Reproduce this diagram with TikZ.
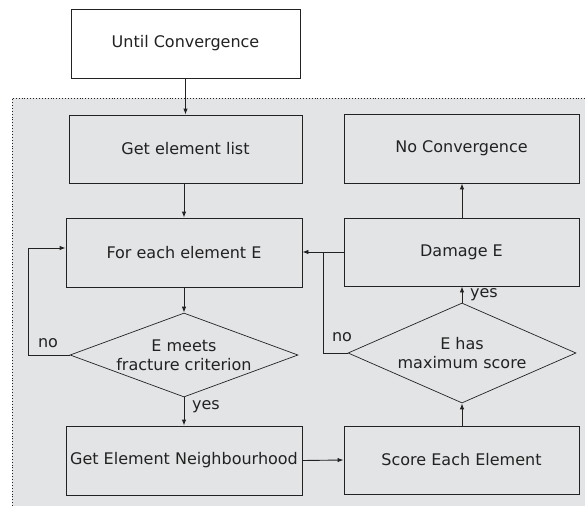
\documentclass[tikz,border=0pt]{standalone}
\usepackage{fontspec}
\setmainfont{DejaVu Sans}
\usetikzlibrary{shapes.geometric,arrows.meta}
\definecolor{bg}{HTML}{E3E4E6}
\definecolor{ink}{HTML}{222222}
\begin{document}
\begin{tikzpicture}[x=1pt,y=-1pt,
  font=\fontsize{16}{19}\selectfont, text=ink,
  box/.style={draw=ink, line width=0.9pt, rectangle, inner sep=0pt, align=center},
  dia/.style={draw=ink, line width=0.7pt, diamond, inner sep=0pt, align=center},
  arr/.style={draw=ink, line width=0.9pt, -{Latex[length=6pt,width=4.5pt]}},
  ln/.style={draw=ink, line width=0.9pt}]
\useasboundingbox (0,0) rectangle (585,506);
\fill[bg] (12,98) rectangle (585,506);
\draw[ink, line width=0.9pt, dotted] (12,506) -- (12,98) -- (585,98);

\node[box, fill=white, minimum width=229pt, minimum height=69pt] (top) at (185.5,43.5) {Until Convergence};
\node[box, fill=bg, minimum width=233pt, minimum height=68pt] (list) at (185.5,149) {Get element list};
\node[box, fill=bg, minimum width=236pt, minimum height=69pt] (each) at (184,252.5) {For each element E};
\node[dia, fill=bg, aspect=2.7, minimum width=228pt, minimum height=84pt] (d1) at (184,355) {E meets\\fracture criterion};
\node[box, fill=bg, minimum width=236pt, minimum height=69pt] (neigh) at (184,460.5) {Get Element Neighbourhood};
\node[box, fill=bg, minimum width=235pt, minimum height=68pt] (score) at (461.5,460) {Score Each Element};
\node[dia, fill=bg, aspect=2.28, minimum width=228pt, minimum height=100pt] (d2) at (462,353) {E has\\maximum score};
\node[box, fill=bg, minimum width=235pt, minimum height=68pt] (dmg) at (461.5,252) {Damage E};
\node[box, fill=bg, minimum width=235pt, minimum height=69pt] (noconv) at (461.5,148.5) {No Convergence};

\draw[arr] (top.south) -- (top.south |- list.north);
\draw[arr] (list.south -| d1.north) -- (each.north -| d1.north) ;
\draw[arr] (each.south -| d1.north) -- (d1.north);
\draw[arr] (d1.south) -- (neigh.north -| d1.south);
\node at (206,407) {yes};
\coordinate (c1) at (28,248);
\draw[ln] (d1.west) -| (c1);
\draw[arr] (c1) -- (c1 -| each.west);
\node at (48,343) {no};
\draw[arr] (neigh.east) -- (score.west);
\draw[arr] (score.north -| d2.south) -- (d2.south);
\draw[arr] (d2.north) -- (dmg.south -| d2.north);
\node at (484,295) {yes};
\draw[arr] (dmg.north -| d2.north) -- (noconv.south -| d2.north);
\draw[arr] (dmg.west) -- (dmg.west -| each.east);
\coordinate (j) at (323,252);
\draw[ln] (d2.west) -| (j);
\node at (342,337) {no};
\end{tikzpicture}
\end{document}
